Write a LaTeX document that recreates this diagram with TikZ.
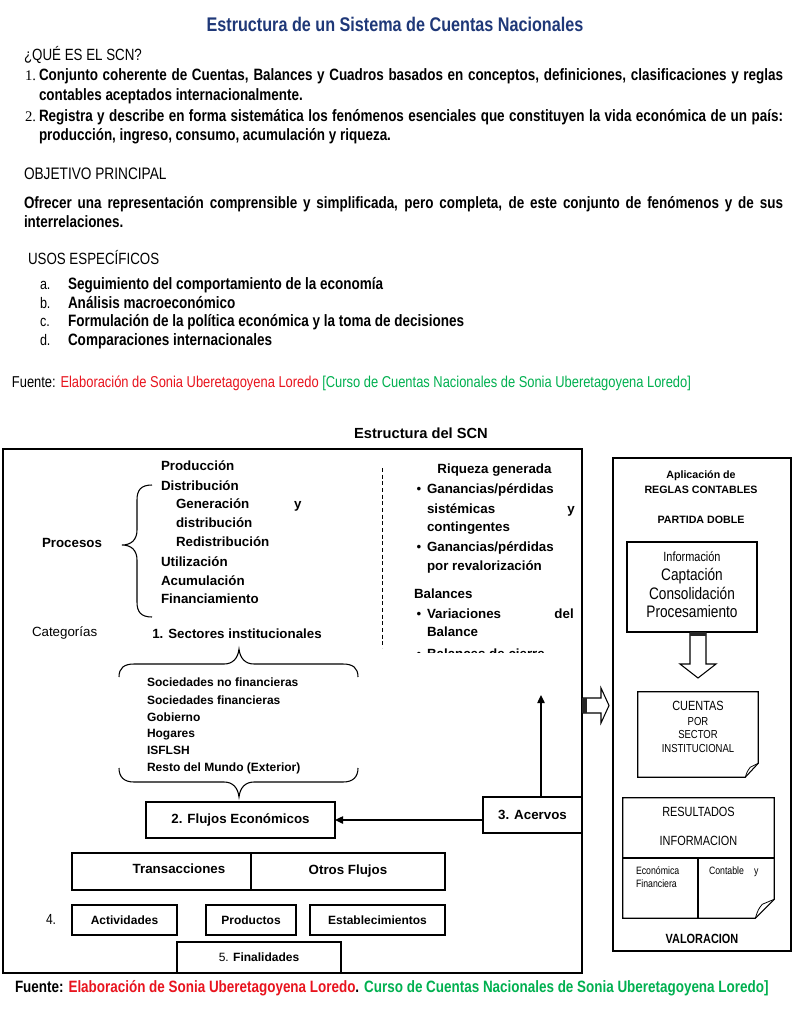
\documentclass[tikz,border=0pt]{standalone}
\usepackage{fontspec}
\setmainfont{Liberation Sans}
\newfontfamily\nar[FakeStretch=0.82]{Liberation Sans}
\newfontfamily\tms{Liberation Serif}
\usetikzlibrary{arrows.meta,calc}
\definecolor{ttl}{RGB}{31,56,120}
\definecolor{fred}{RGB}{232,20,30}
\definecolor{fgreen}{RGB}{0,176,80}
\newlength\pxu \setlength\pxu{0.75pt}
\newcommand\fsz[1]{\fontsize{#1}{#1}\selectfont}
\tikzset{
  txt/.style={inner sep=0pt, outer sep=0pt, anchor=mid west},
  ctxt/.style={inner sep=0pt, outer sep=0pt, anchor=mid},
  bx/.style={draw, line width=1pt, inner sep=0pt, outer sep=0pt},
  arr/.style={line width=1pt, -{Triangle[length=6pt,width=5.5pt]}},
  blk/.style={draw, line width=0.8pt, fill=white},
}
\begin{document}
\begin{tikzpicture}[x=0.75pt,y=-0.75pt]
\useasboundingbox (0,0) rectangle (794,1024);
\fill[white] (0,0) rectangle (794,1024);
% ---------- top text ----------
\node[ctxt] (title) at (395,28) {\nar\fsz{14.8}\bfseries\color{ttl}Estructura de un Sistema de Cuentas Nacionales};
\node[txt] (q) at (24,57) {\nar\fsz{12.2}¿QUÉ ES EL SCN?};
\node[txt] (n1) at (25,77) {\tms\fsz{11}1.};
\node[txt] (l1a) at (39,77) {\nar\fsz{12.3}\bfseries\makebox[744\pxu][s]{Conjunto coherente de Cuentas, Balances y Cuadros basados en conceptos, definiciones, clasificaciones y reglas}};
\node[txt] (l1b) at (39,97) {\nar\fsz{12.3}\bfseries contables aceptados internacionalmente.};
\node[txt] (n2) at (25,118) {\tms\fsz{11}2.};
\node[txt] (l2a) at (39,118) {\nar\fsz{12.3}\bfseries\makebox[744\pxu][s]{Registra y describe en forma sistemática los fenómenos esenciales que constituyen la vida económica de un país:}};
\node[txt] (l2b) at (39,137) {\nar\fsz{12.3}\bfseries producción, ingreso, consumo, acumulación y riqueza.};
\node[txt] (obj) at (24,176) {\nar\fsz{12.5}OBJETIVO PRINCIPAL};
\node[txt] (of1) at (24,205) {\nar\fsz{12.3}\bfseries\makebox[759\pxu][s]{Ofrecer una representación comprensible y simplificada, pero completa, de este conjunto de fenómenos y de sus}};
\node[txt] (of2) at (24,224) {\nar\fsz{12.3}\bfseries interrelaciones.};
\node[txt] (usos) at (28,261) {\nar\fsz{12.2}USOS ESPECÍFICOS};
\node[txt] (la) at (40,286) {\nar\fsz{11.5}a.};
\node[txt] (lb) at (40,305) {\nar\fsz{11.5}b.};
\node[txt] (lc) at (40,323) {\nar\fsz{11.5}c.};
\node[txt] (ld) at (40,342) {\nar\fsz{11.5}d.};
\node[txt] (ia) at (68,286) {\nar\fsz{12.35}\bfseries Seguimiento del comportamiento de la economía};
\node[txt] (ib) at (68,305) {\nar\fsz{12.35}\bfseries Análisis macroeconómico};
\node[txt] (ic) at (68,323) {\nar\fsz{12.35}\bfseries Formulación de la política económica y la toma de decisiones};
\node[txt] (id) at (68,342) {\nar\fsz{12.35}\bfseries Comparaciones internacionales};
\node[txt] (fu1) at (12,384) {\nar\fsz{11.8}Fuente: \textcolor{fred}{Elaboración de Sonia Uberetagoyena Loredo} \textcolor{fgreen}{[Curso de Cuentas Nacionales de Sonia Uberetagoyena Loredo]}};
% ---------- diagram ----------
\node[ctxt] (est) at (421,435) {\fsz{11}\bfseries Estructura del SCN};
\node[bx, minimum width=579\pxu, minimum height=524\pxu] (main) at (292.5,711) {};
\node[bx, minimum width=178\pxu, minimum height=493\pxu] (right) at (702,704.5) {};
% Procesos
\node[txt] (proc) at (42,544) {\fsz{10}\bfseries Procesos};
\draw[line width=0.8pt] (152,485) .. controls (141,485) and (137,490) .. (137,500) -- (137,530) .. controls (137,540) and (131,545) .. (122,545) .. controls (131,545) and (137,550) .. (137,560) -- (137,602) .. controls (137,612) and (141,617) .. (152,617);
\node[txt] (p1) at (161,467) {\fsz{10}\bfseries Producción};
\node[txt] (p2) at (161,487) {\fsz{10}\bfseries Distribución};
\node[txt] (p3) at (176,505) {\fsz{10}\bfseries Generación};
\node[txt] (p3y) at (294,505) {\fsz{10}\bfseries y};
\node[txt] (p4) at (176,524) {\fsz{10}\bfseries distribución};
\node[txt] (p5) at (176,543) {\fsz{10}\bfseries Redistribución};
\node[txt] (p6) at (161,563) {\fsz{10}\bfseries Utilización};
\node[txt] (p7) at (161,582) {\fsz{10}\bfseries Acumulación};
\node[txt] (p8) at (161,600) {\fsz{10}\bfseries Financiamiento};
\node[txt] (cat) at (32,633) {\fsz{10}Categorías};
\node[ctxt] (sect) at (237,635) {\fsz{10}\bfseries 1. Sectores institucionales};
% braces
\draw[line width=0.8pt] (119,677) .. controls (119,668) and (124,664) .. (134,664) -- (224,664) .. controls (233,664) and (238,658) .. (239,649) .. controls (240,658) and (245,664) .. (254,664) -- (343,664) .. controls (353,664) and (358,668) .. (358,677);
\draw[line width=0.8pt] (119,768) .. controls (119,777) and (124,782) .. (134,782) -- (224,782) .. controls (233,782) and (238,788) .. (239,797) .. controls (240,788) and (245,782) .. (254,782) -- (343,782) .. controls (353,782) and (358,777) .. (358,768);
\node[txt] (s1) at (147,683) {\fsz{9}\bfseries Sociedades no financieras};
\node[txt] (s2) at (147,701) {\fsz{9}\bfseries Sociedades financieras};
\node[txt] (s3) at (147,718) {\fsz{9}\bfseries Gobierno};
\node[txt] (s4) at (147,734) {\fsz{9}\bfseries Hogares};
\node[txt] (s5) at (147,751) {\fsz{9}\bfseries ISFLSH};
\node[txt] (s6) at (147,768) {\fsz{9}\bfseries Resto del Mundo (Exterior)};
% dashed divider
\draw[line width=0.6pt, dash pattern=on 3pt off 2pt] (382,468) -- (382,648);
% right column text (clipped)
\begin{scope}
\clip (384,452) rectangle (580,652.5);
\node[ctxt] (riq) at (494.5,470) {\fsz{10}\bfseries Riqueza generada};
\node[ctxt] (b1) at (419,490) {\fsz{10}•};
\node[txt] (r1) at (427,490) {\fsz{10}\bfseries Ganancias/pérdidas};
\node[txt] (r2) at (427,510) {\fsz{10}\bfseries sistémicas};
\node[anchor=mid east, inner sep=0pt] (r2y) at (575,510) {\fsz{10}\bfseries y};
\node[txt] (r3) at (427,528) {\fsz{10}\bfseries contingentes};
\node[ctxt] (b2) at (419,548) {\fsz{10}•};
\node[txt] (r4) at (427,548) {\fsz{10}\bfseries Ganancias/pérdidas};
\node[txt] (r5) at (427,567) {\fsz{10}\bfseries por revalorización};
\node[txt] (bal) at (414,595) {\fsz{10}\bfseries Balances};
\node[ctxt] (b3) at (419,615) {\fsz{10}•};
\node[txt] (r6) at (427,615) {\fsz{10}\bfseries Variaciones};
\node[anchor=mid east, inner sep=0pt] (r6d) at (574,615) {\fsz{10}\bfseries del};
\node[txt] (r7) at (427,633) {\fsz{10}\bfseries Balance};
\node[ctxt] (b4) at (419,655) {\fsz{10}•};
\node[txt] (r8) at (427,655) {\fsz{10}\bfseries Balances de cierre};
\end{scope}
% flows
\node[bx, minimum width=189\pxu, minimum height=36\pxu] (flujos) at (240.5,820) {\fsz{10}\bfseries 2. Flujos Económicos};
\node[bx, minimum width=99\pxu, minimum height=36\pxu] (acervos) at (532.5,815) {\fsz{10}\bfseries 3. Acervos};
\coordinate (up) at (541,695);
\draw[arr] (acervos.west |- flujos.east) -- (flujos.east);
\draw[arr] (acervos.north -| up) -- (up);
\node[bx, minimum width=179\pxu, minimum height=37\pxu] (trans) at (161.5,871.5) {};
\node[bx, minimum width=194\pxu, minimum height=37\pxu] (otros) at (348,871.5) {\fsz{10}\bfseries Otros Flujos};
\node[ctxt] (transt) at (179,870) {\fsz{10}\bfseries Transacciones};
\node[txt] (four) at (46,921) {\nar\fsz{11}4.};
\node[bx, minimum width=105\pxu, minimum height=30\pxu] (activ) at (124.5,920) {\fsz{9}\bfseries Actividades};
\node[bx, minimum width=90\pxu, minimum height=30\pxu] (prod) at (251,920) {\fsz{9}\bfseries Productos};
\node[bx, minimum width=135\pxu, minimum height=30\pxu] (estab) at (377.5,920) {\fsz{9}\bfseries Establecimientos};
\node[bx, minimum width=164\pxu, minimum height=31\pxu] (final) at (259,957.5) {\fsz{9}5. \bfseries Finalidades};
% block arrow right
\draw[blk] (582,698) -- (601,698) -- (601,688) -- (609,705.5) -- (601,723) -- (601,713) -- (582,713);
\fill[black!85] (582,698) rectangle (587,713);
% ---------- right panel ----------
\node[ctxt] (apl) at (701,475) {\fsz{8}\bfseries Aplicación de};
\node[ctxt] (reg) at (701,490) {\fsz{8}\bfseries REGLAS CONTABLES};
\node[ctxt] (pd) at (701,520) {\fsz{8}\bfseries PARTIDA DOBLE};
\node[bx, minimum width=130\pxu, minimum height=90\pxu] (info) at (692,587) {};
\node[ctxt] (inf1) at (692,558) {\nar\fsz{10}Información};
\node[ctxt] (inf2) at (692,577) {\nar\fsz{12.5}Captación};
\node[ctxt] (inf3) at (692,596) {\nar\fsz{12.5}Consolidación};
\node[ctxt] (inf4) at (692,614) {\nar\fsz{12.5}Procesamiento};
\draw[blk] (690,632) -- (690,664) -- (680,664) -- (698,678) -- (716,664) -- (706,664) -- (706,632);
\fill[black!85] (690,632) rectangle (706,636);
% cuentas page
\node[minimum width=120\pxu, minimum height=85\pxu, inner sep=0pt] (cuentas) at (698,734.5) {};
\draw[line width=0.8pt] (cuentas.north west) -- (cuentas.north east) -- ($(cuentas.south east)+(0,-14)$) -- ($(cuentas.south east)+(-13,0)$) -- (cuentas.south west) -- cycle;
\draw[line width=0.6pt] ($(cuentas.south east)+(-13,0)$) .. controls ($(cuentas.south east)+(-11,-6)$) .. ($(cuentas.south east)+(-8,-10)$) -- ($(cuentas.south east)+(0,-14)$);
\node[ctxt] (c1) at (698,707) {\nar\fsz{10}CUENTAS};
\node[ctxt] (c2) at (698,722) {\nar\fsz{8.7}POR};
\node[ctxt] (c3) at (698,735) {\nar\fsz{8.7}SECTOR};
\node[ctxt] (c4) at (698,749) {\nar\fsz{8.7}INSTITUCIONAL};
% resultados
\node[minimum width=151\pxu, minimum height=120\pxu, inner sep=0pt] (res) at (698.5,858) {};
\draw[line width=0.8pt] (res.north west) -- (res.north east) -- ($(res.south east)+(0,-19)$) -- ($(res.south east)+(-19,0)$) -- (res.south west) -- cycle;
\draw[line width=0.6pt] ($(res.south east)+(-19,0)$) .. controls ($(res.south east)+(-16,-9)$) .. ($(res.south east)+(-12,-14)$) -- ($(res.south east)+(0,-19)$);
\draw[line width=0.8pt] (res.west) -- (res.east);
\draw[line width=0.8pt] (698,858) -- (698,918);
\node[ctxt] (rs1) at (698.5,813) {\nar\fsz{10}RESULTADOS};
\node[ctxt] (rs2) at (698.5,842) {\nar\fsz{10}INFORMACION};
\node[txt] (rs3) at (636,871) {\nar\fsz{8}Económica};
\node[txt] (rs4) at (636,884) {\nar\fsz{8}Financiera};
\node[txt] (rs5) at (709,871) {\nar\fsz{8}Contable};
\node[txt] (rs6) at (754,871) {\nar\fsz{8}y};
\node[ctxt] (val) at (702,940) {\nar\fsz{10}\bfseries VALORACION};
% bottom source
\node[txt] (fu2) at (15,989) {\nar\fsz{12.3}\bfseries Fuente: \textcolor{fred}{Elaboración de Sonia Uberetagoyena Loredo}. \textcolor{fgreen}{Curso de Cuentas Nacionales de Sonia Uberetagoyena Loredo]}};
\end{tikzpicture}
\end{document}
